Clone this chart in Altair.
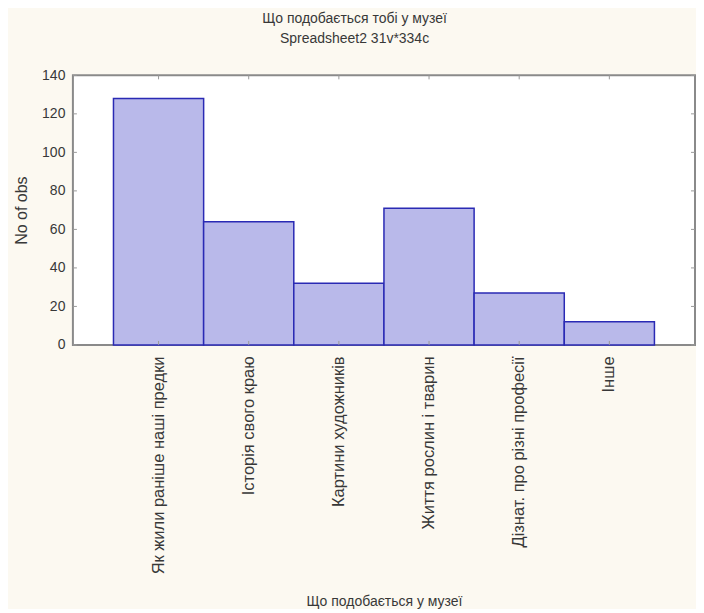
import altair as alt
import pandas as pd

categories = [
    "Як жили раніше наші предки",
    "Історія свого краю",
    "Картини художників",
    "Життя рослин і тварин",
    "Дізнат. про різні професії",
    "Інше",
]
counts = [128, 64, 32, 71, 27, 12]
y_ticks = [0, 20, 40, 60, 80, 100, 120, 140]

df = pd.DataFrame({"cat": categories, "n": counts})
tick_df = pd.DataFrame({"v": y_ticks})

W, H = 623, 270
FONT = "Liberation Sans"
TXT = "#383838"

xscale = alt.Scale(domain=categories, paddingInner=0, paddingOuter=0.45)
yscale = alt.Scale(domain=[0, 140], nice=False)

x_axis = alt.Axis(title="Що подобається у музеї", labelAngle=270,
                  ticks=False, tickSize=0, labelPadding=11,
                  labelFontSize=16.5, labelFont=FONT, labelColor=TXT,
                  titleFontSize=14, titleFont=FONT, titleColor=TXT,
                  titleFontWeight="normal", titleY=261,
                  titleBaseline="alphabetic", domain=False,
                  labelLimit=400)
y_axis = alt.Axis(title="No of obs", values=y_ticks, ticks=False,
                  tickSize=0, labelPadding=8, grid=False, domain=False,
                  labelOverlap=False, labelFlush=False, tickCount=8,
                  labelFontSize=14, labelFont=FONT, labelColor=TXT,
                  titleFontSize=16, titleFont=FONT, titleColor=TXT,
                  titleFontWeight="normal", titlePadding=12)

bars = alt.Chart(df).mark_bar(
    fill="#b9b9ea", stroke="#2a2ab4", strokeWidth=1.5
).encode(
    x=alt.X("cat:N", sort=categories, scale=xscale, axis=x_axis),
    y=alt.Y("n:Q", scale=yscale, axis=y_axis),
)

tick_color = "#9a9a9a"
left_ticks = alt.Chart(tick_df).mark_rule(color=tick_color, strokeWidth=1).encode(
    y=alt.Y("v:Q", scale=yscale, axis=y_axis), x=alt.value(0), x2=alt.value(4))
right_ticks = alt.Chart(tick_df).mark_rule(color=tick_color, strokeWidth=1).encode(
    y=alt.Y("v:Q", scale=yscale, axis=y_axis), x=alt.value(W - 4), x2=alt.value(W))
top_ticks = alt.Chart(df).mark_rule(color=tick_color, strokeWidth=1).encode(
    x=alt.X("cat:N", sort=categories, scale=xscale, axis=x_axis), y=alt.value(0), y2=alt.value(4))
bottom_ticks = alt.Chart(df).mark_rule(color=tick_color, strokeWidth=1).encode(
    x=alt.X("cat:N", sort=categories, scale=xscale, axis=x_axis), y=alt.value(H - 4), y2=alt.value(H))

chart = alt.layer(bars, left_ticks, right_ticks, top_ticks, bottom_ticks).properties(
    width=W, height=H,
    padding={"left": 5, "top": 4, "right": 0, "bottom": 0},
    title=alt.TitleParams(
        ["Що подобається тобі у музеї", "Spreadsheet2 31v*334c"],
        fontSize=14, fontWeight="normal", font=FONT, color=TXT,
        lineHeight=20, anchor="middle", frame="bounds", offset=22),
).configure(
    background="#fcf9f1",
).configure_view(
    fill="white", stroke="#8a8a8a", strokeWidth=2,
)

chart.save("out.html", embed_options={"renderer": "svg", "actions": False})
